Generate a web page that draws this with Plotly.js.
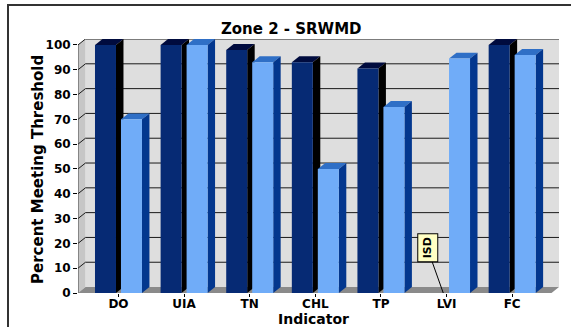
<!DOCTYPE html>
<html>
<head>
<meta charset="utf-8">
<script src="https://cdn.plot.ly/plotly-3.0.1.min.js"></script>
<style>
html,body{margin:0;padding:0;background:#fff;overflow:hidden;width:571px;height:327px;}
#chart{width:571px;height:327px;position:relative;}
#frame{position:absolute;left:7px;top:4px;width:562px;height:321px;border-left:2px solid #333;border-top:2px solid #333;pointer-events:none;}
</style>
</head>
<body>
<div id="chart"></div>
<div id="frame"></div>
<script>
// ---- data ----
const categories = ["DO", "UIA", "TN", "CHL", "TP", "LVI", "FC"];
const seriesDark = [100, 100, 98, 93, 90.5, null, 100];
const seriesLight = [70, 100, 93, 50, 75, 94.5, 96];
const yTicks = [0, 10, 20, 30, 40, 50, 60, 70, 80, 90, 100];
const noteText = "ISD";
const noteCategory = "LVI";
const titleText = "Zone 2 - SRWMD";
const xTitle = "Indicator";
const yTitle = "Percent Meeting Threshold";

// ---- styling / geometry ----
const xLo = -0.617, xHi = 6.6;     // front plane extent
const dx = 0.114, dy = 2.4;        // 3D depth offset (x units, y units)
const barW = 0.32;
const offDark = -0.358, offLight = 0.038;
const FONT = "DejaVu Sans";

const xs = categories.map((c, i) => i);

const dark = {front: "#062a74", top: "#000b3e", side: "#000000"};
const light = {front: "#70acf8", top: "#2f6fc6", side: "#03378e"};

const shapes = [];
// back wall
shapes.push({type: "rect", xref: "x", yref: "y", x0: xLo + dx, x1: xHi + dx, y0: dy, y1: 100 + dy,
  fillcolor: "#dedede", line: {width: 0}, layer: "below"});
// left wall
shapes.push({type: "path", xref: "x", yref: "y",
  path: `M ${xLo},0 L ${xLo + dx},${dy} L ${xLo + dx},${100 + dy} L ${xLo},100 Z`,
  fillcolor: "#c6c6c6", line: {width: 0}, layer: "below"});
// floor
shapes.push({type: "path", xref: "x", yref: "y",
  path: `M ${xLo},0 L ${xHi},0 L ${xHi + dx},${dy} L ${xLo + dx},${dy} Z`,
  fillcolor: "#8a8a8a", line: {width: 0}, layer: "below"});
// gridlines
yTicks.filter(v => v > 0).forEach(v => {
  shapes.push({type: "path", xref: "x", yref: "y",
    path: `M ${xLo},${v} L ${xLo + dx},${v + dy} L ${xHi + dx},${v + dy}`,
    line: {color: "#1a1a1a", width: 1}, layer: "below"});
});
// left front edge (axis line)
shapes.push({type: "line", xref: "x", yref: "y", x0: xLo, x1: xLo, y0: 0, y1: 100,
  line: {color: "#444", width: 1}, layer: "below"});

function faces(vals, off, col) {
  vals.forEach((v, i) => {
    if (v === null) return;
    const x0 = xs[i] + off, x1 = x0 + barW;
    shapes.push({type: "path", xref: "x", yref: "y",
      path: `M ${x0},${v} L ${x1},${v} L ${x1 + dx},${v + dy} L ${x0 + dx},${v + dy} Z`,
      fillcolor: col.top, line: {width: 0}, layer: "below"});
    shapes.push({type: "path", xref: "x", yref: "y",
      path: `M ${x1},0 L ${x1},${v} L ${x1 + dx},${v + dy} L ${x1 + dx},${dy} Z`,
      fillcolor: col.side, line: {width: 0}, layer: "below"});
  });
}
faces(seriesDark, offDark, dark);
faces(seriesLight, offLight, light);

const traces = [
  {type: "bar", x: xs, y: seriesDark, width: barW, offset: offDark,
   marker: {color: dark.front, line: {width: 0}}, hoverinfo: "skip", showlegend: false},
  {type: "bar", x: xs, y: seriesLight, width: barW, offset: offLight,
   marker: {color: light.front, line: {width: 0}}, hoverinfo: "skip", showlegend: false}
];

const noteIdx = categories.indexOf(noteCategory);
const tf = {family: FONT, size: 12, weight: 700, color: "#000"};

const layout = {
  width: 571, height: 327,
  margin: {l: 78, r: 12, t: 39, b: 34},
  paper_bgcolor: "#fff", plot_bgcolor: "rgba(0,0,0,0)",
  showlegend: false,
  barmode: "overlay",
  title: {text: titleText, font: {family: FONT, size: 15, weight: 700, color: "#000"},
          xref: "container", x: 0.51, xanchor: "center", yref: "container", y: 0.912, yanchor: "middle"},
  xaxis: {type: "linear", range: [xLo, xHi + dx], tickvals: xs, ticktext: categories,
          showgrid: false, zeroline: false, showline: false,
          ticks: "outside", ticklen: 3, tickcolor: "#000", ticklabelstandoff: -3,
          tickfont: tf},
  yaxis: {range: [0, 100 + dy], tickvals: yTicks, showgrid: false, zeroline: false, showline: false,
          ticks: "outside", ticklen: 4, tickcolor: "#000", ticklabelstandoff: 0,
          tickfont: tf},
  shapes: shapes,
  annotations: [
    {xref: "paper", yref: "paper", x: (313 - 78) / 481, y: (293 - 319) / 254,
     text: xTitle, showarrow: false, xanchor: "center", yanchor: "middle",
     font: {family: FONT, size: 14, weight: 700, color: "#000"}},
    {xref: "paper", yref: "paper", x: (38 - 78) / 481, y: (293 - 170) / 254,
     text: yTitle, showarrow: false, xanchor: "center", yanchor: "middle", textangle: -90,
     font: {family: FONT, size: 15, weight: 700, color: "#000"}},
    {x: noteIdx - 0.05, y: 0, xref: "x", yref: "y",
     text: noteText, textangle: -90,
     font: {family: FONT, size: 11, weight: 700, color: "#000"},
     bgcolor: "#ffffc4", bordercolor: "#000", borderwidth: 1, borderpad: 3,
     showarrow: true, arrowhead: 0, arrowwidth: 1, arrowcolor: "#000",
     ax: -16, ay: -45}
  ]
};

Plotly.newPlot("chart", traces, layout, {staticPlot: true, displayModeBar: false});
</script>
</body>
</html>
